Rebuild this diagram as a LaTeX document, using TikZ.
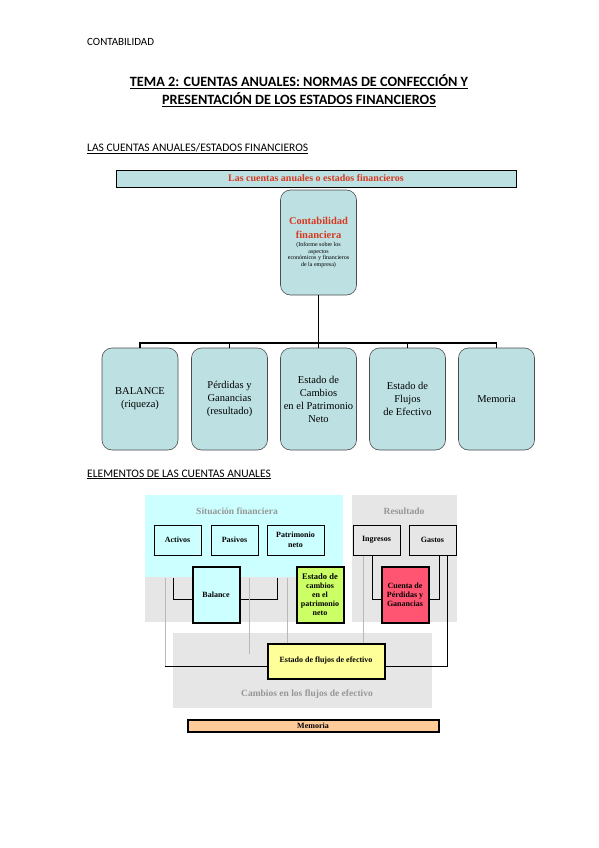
\documentclass[tikz,border=0pt]{standalone}
\usepackage{fontspec}
\setmainfont{Liberation Serif}
\newfontfamily\calibri{Carlito}
\usepackage{xcolor}
\usetikzlibrary{positioning}
\definecolor{caBlue}{RGB}{189,224,227}
\definecolor{caRed}{RGB}{214,58,32}
\definecolor{caCyan}{RGB}{204,255,255}
\definecolor{caGray}{RGB}{230,230,230}
\definecolor{caGreen}{RGB}{204,255,102}
\definecolor{caPink}{RGB}{255,85,115}
\definecolor{caYellow}{RGB}{255,255,153}
\definecolor{caOrange}{RGB}{255,204,153}
\definecolor{caText}{RGB}{150,150,150}
\definecolor{caLine}{RGB}{185,185,185}

\begin{document}
\begin{tikzpicture}[x=1pt,y=-1pt,
  heading/.style={anchor=base west, inner sep=0pt, font=\calibri\fontsize{11.5}{13}\selectfont},
  rbox/.style={draw=black!70, line width=0.6pt, fill=caBlue, rounded corners=10pt,
    minimum width=76, minimum height=102, align=center, inner sep=1pt,
    font=\fontsize{10.5}{13}\selectfont},
  sbox/.style={draw=black, line width=0.8pt, minimum width=47, minimum height=30,
    align=center, inner sep=1pt, font=\bfseries\fontsize{8}{9.5}\selectfont},
  kbox/.style={draw=black, line width=2pt, minimum width=47, minimum height=56,
    align=center, inner sep=1pt, font=\bfseries\fontsize{8}{9}\selectfont},
  panlbl/.style={text=caText, inner sep=0pt, font=\bfseries\fontsize{9.5}{11}\selectfont},
  blk/.style={draw=black, line width=0.8pt},
  gry/.style={draw=caLine, line width=0.8pt}]
\useasboundingbox[fill=white] (0,0) rectangle (599,848);

% page header and title
\node[anchor=base west, inner sep=0pt, font=\calibri\fontsize{11}{13}\selectfont] (hdr) at (87,46) {CONTABILIDAD};
\node[align=center, inner sep=0pt, font=\calibri\bfseries\fontsize{14.2}{18}\selectfont] (title) at (299,91)
  {\underline{TEMA 2: CUENTAS ANUALES: NORMAS DE CONFECCIÓN Y}\\\underline{PRESENTACIÓN DE LOS ESTADOS FINANCIEROS}};
\node[heading] (sec1) at (87,151) {\underline{LAS CUENTAS ANUALES/ESTADOS FINANCIEROS}};

% first diagram
\node[draw=black, line width=0.9pt, fill=caBlue, minimum width=400, minimum height=17, inner sep=0pt,
  text=caRed, font=\bfseries\fontsize{10}{11}\selectfont] (cuentas) at (316,178.5) {Las cuentas anuales o estados financieros};
\node[rbox, minimum height=105, font=\fontsize{6}{6.5}\selectfont] (conta) at (318.5,242.5)
  {\textcolor{caRed}{\bfseries\fontsize{10.5}{12}\selectfont Contabilidad}\\[5pt]
   \textcolor{caRed}{\bfseries\fontsize{10.5}{12}\selectfont financiera}\\[2pt]
   (Informe sobre los\\aspectos\\económicos y financieros\\de la empresa)};
\node[rbox] (bal1) at (140,399) {BALANCE\\(riqueza)};
\node[rbox] (pyg1) at (229.5,399) {Pérdidas y\\Ganancias\\(resultado)};
\node[rbox] (ecpn1) at (318.5,399) {Estado de\\Cambios\\en el Patrimonio\\Neto};
\node[rbox] (efe1) at (407.5,399) {Estado de\\Flujos\\de Efectivo};
\node[rbox] (mem1) at (496.5,399) {Memoria};
\coordinate (bus) at (318.5,343);
\draw[line width=1.8pt] (conta.south) -- (bus);
\draw[line width=1.8pt] (bal1.north) -- ++(0,-5) -| (mem1.north);
\foreach \b in {pyg1,ecpn1,efe1}
  \draw[line width=1.8pt] (\b.north) -- ++(0,-5);

\node[heading] (sec2) at (87,477) {\underline{ELEMENTOS DE LAS CUENTAS ANUALES}};

% second diagram: background panels
\fill[caCyan] (145,495) rectangle (343,577);
\fill[caGray] (145,577) rectangle (343,622);
\fill[caGray] (352,495) rectangle (457,622);
\fill[caGray] (173,633) rectangle (432,708);
\node[panlbl] (sitlbl) at (237,511) {Situación financiera};
\node[panlbl] (reslbl) at (404,511) {Resultado};
\node[panlbl] (cflbl) at (307,694) {Cambios en los flujos de efectivo};

% connectors
\coordinate (la) at (173,578);
\coordinate (lb) at (277,578);
\coordinate (lc) at (165,578);
\coordinate (ld) at (249,578);
\coordinate (le) at (249,654);
\coordinate (lf) at (287,578);
\coordinate (ra) at (372,556);
\coordinate (rb) at (439,556);
\coordinate (rc) at (363,556);
\coordinate (rd) at (447,556);
\coordinate (cc) at (165,666);

% boxes
\node[sbox, fill=caCyan] (act) at (177.5,540) {Activos};
\node[sbox, fill=caCyan] (pas) at (234.5,540) {Pasivos};
\node[sbox, fill=caCyan, minimum width=57] (pat) at (295.5,540) {Patrimonio\\neto};
\node[sbox, fill=caGray] (ing) at (376.5,540) {Ingresos};
\node[sbox, fill=caGray] (gas) at (432.5,540) {Gastos};
\node[kbox, fill=caCyan] (bal) at (216,594.5) {Balance};
\node[kbox, fill=caGreen] (ecpn) at (320,594.5) {\fontsize{8.5}{9}\selectfont Estado de\\cambios\\en el\\patrimonio\\neto};
\node[kbox, fill=caPink] (cpyg) at (405,594.5) {Cuenta de\\Pérdidas y\\Ganancias};
\node[kbox, fill=caYellow, minimum width=117, minimum height=35] (efe) at (326,661) {Estado de flujos de efectivo};
\node[draw=black, line width=2pt, fill=caOrange, minimum width=251, minimum height=12, inner sep=0pt,
  font=\bfseries\fontsize{8}{9}\selectfont] (mem) at (313,725.5) {Memoria};

\draw[blk] (la) |- ([yshift=-5pt]bal.west);
\draw[blk] (lb) |- ([yshift=-5pt]bal.east);
\draw[gry] (lc) -- (cc);
\draw[blk] (cc) -- ([yshift=-5pt]efe.west);
\draw[gry] (ld) -- (le);
\draw[gry] (lf) -- (lf |- efe.north);
\draw[blk] (ra) |- ([yshift=-5pt]cpyg.west);
\draw[blk] (rb) |- ([yshift=-5pt]cpyg.east);
\draw[gry] (rc) -- (rc |- efe.north);
\draw[blk] (rd) |- ([yshift=-5pt]efe.east);
\end{tikzpicture}
\end{document}
